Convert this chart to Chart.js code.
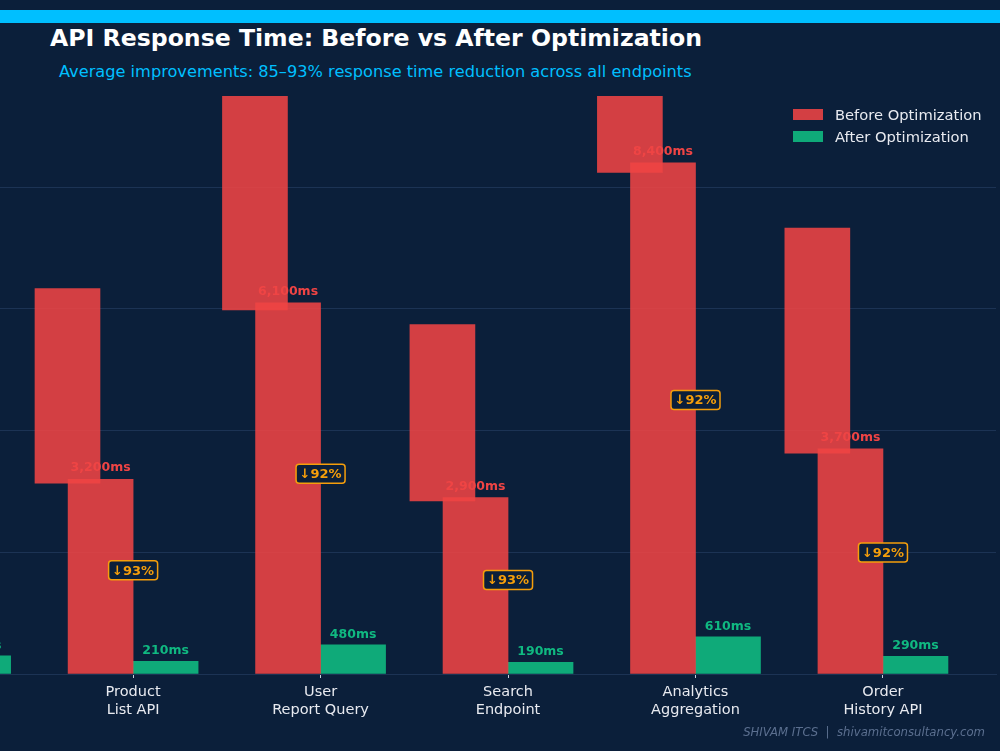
<!DOCTYPE html>
<html>
<head>
<meta charset="utf-8">
<title>API Response Time</title>
<script src="https://cdn.jsdelivr.net/npm/chart.js@4.4.1/dist/chart.umd.min.js"></script>
<style>
  body {
    margin: 0;
    width: 1000px;
    height: 751px;
    overflow: hidden;
    position: relative;
    background: #0b1f3a;
    font-family: "DejaVu Sans", sans-serif;
  }
  #topbar { position: absolute; left: 0; top: 10px; width: 1000px; height: 13px; background: #00bfff; }
  #title { position: absolute; left: 50px; top: 25px; font-size: 23.6px; font-weight: bold; color: #ffffff; line-height: 27px; white-space: nowrap; }
  #subtitle { position: absolute; left: 59px; top: 62px; font-size: 16.2px; color: #00bfff; white-space: nowrap; }
  #legend { position: absolute; left: 793px; top: 106px; font-size: 14.7px; color: #e8eaf0; z-index: 2; }
  #legend div { height: 22px; position: relative; padding-left: 42px; white-space: nowrap; }
  #legend span { position: absolute; left: 0; top: 3px; width: 30px; height: 11px; }
  #footer { position: absolute; right: 15px; top: 725px; font-size: 11.7px; font-style: italic; color: #5b6f8f; white-space: pre; z-index: 2; }
  canvas { position: absolute; left: 0; top: 0; }
</style>
</head>
<body>
<div id="topbar"></div>
<div id="title">API Response Time: Before vs After Optimization</div>
<div id="subtitle">Average improvements: 85–93% response time reduction across all endpoints</div>
<div id="legend"></div>
<div id="footer">SHIVAM ITCS  |  shivamitconsultancy.com</div>
<canvas id="chart" width="1000" height="751"></canvas>

<script>
// Endpoints (the first one sits mostly off the left edge of the plot)
const endpoints = ["Auth API", "Product List API", "User Report Query", "Search Endpoint", "Analytics Aggregation", "Order History API"];
const tickLabels = [["Auth", "API"], ["Product", "List API"], ["User", "Report Query"], ["Search", "Endpoint"], ["Analytics", "Aggregation"], ["Order", "History API"]];

// Response times in ms
const beforeMs = [2000, 3200, 6100, 2900, 8400, 3700];
const afterMs = [300, 210, 480, 190, 610, 290];
const reduction = ["85", "93", "92", "93", "92", "92"];

// the offset red "ghost" bars, low and high ends in ms
const ghostLow = [1960, 3135, 5985, 2845, 8245, 3630];
const ghostHigh = [3960, 6335, 12085, 5745, 16645, 7330];

const gridValues = [0, 2000, 4000, 6000, 8000];

const seriesNames = ["Before Optimization", "After Optimization"];

const RED = "rgba(239, 68, 68, 0.88)";
const GREEN = "rgba(16, 185, 129, 0.9)";
const RED_TEXT = "#ef4444";
const GREEN_TEXT = "#10b981";
const BADGE = "#f59e0b";
const GRID = "#1c3354";

// shift of the ghost bars, in category units
const GHOST_SHIFT = 0.35;

// legend
const legend = document.getElementById("legend");
[RED, GREEN].forEach((c, i) => {
    const row = document.createElement("div");
    row.innerHTML = '<span style="background:' + c + '"></span>' + seriesNames[i];
    legend.appendChild(row);
});

const fmt = v => v.toLocaleString("en-US") + "ms";

// value labels and reduction badges, drawn before the ghost bars go on top
const labelPlugin = {
    id: "barLabels",
    afterDatasetDraw(chart, args) {
        if (args.index !== 0) return;
        const ctx = chart.ctx;
        const yScale = chart.scales.y;
        const beforeMeta = chart.getDatasetMeta(0);
        const afterMeta = chart.getDatasetMeta(1);
        ctx.save();
        ctx.font = 'bold 12.5px "DejaVu Sans"';
        ctx.textAlign = "center";
        ctx.textBaseline = "bottom";
        beforeMeta.data.forEach((bar, i) => {
            ctx.fillStyle = RED_TEXT;
            ctx.fillText(fmt(beforeMs[i]), bar.x, bar.y - 5);
        });
        afterMeta.data.forEach((bar, i) => {
            ctx.fillStyle = GREEN_TEXT;
            ctx.fillText(fmt(afterMs[i]), bar.x, bar.y - 4);
        });

        // badges
        ctx.font = 'bold 13px "DejaVu Sans"';
        ctx.textBaseline = "middle";
        beforeMeta.data.forEach((bar, i) => {
            const cx = (bar.x + afterMeta.data[i].x) / 2;
            const cy = yScale.getPixelForValue((beforeMs[i] + afterMs[i]) / 2);
            const text = "↓" + reduction[i] + "%";
            const w = ctx.measureText(text).width + 7;
            const h = 19;
            ctx.beginPath();
            ctx.roundRect(cx - w / 2, cy - h / 2, w, h, 3);
            ctx.fillStyle = "#0b1f3a";
            ctx.fill();
            ctx.lineWidth = 1.5;
            ctx.strokeStyle = BADGE;
            ctx.stroke();
            ctx.fillStyle = BADGE;
            ctx.fillText(text, cx, cy + 1);
        });
        ctx.restore();
    }
};

Chart.defaults.font.family = '"DejaVu Sans", sans-serif';

new Chart(document.getElementById("chart"), {
    type: "bar",
    data: {
        datasets: [
            {
                label: seriesNames[0],
                data: beforeMs.map((v, i) => ({ x: i, y: v })),
                backgroundColor: RED,
                barThickness: 65,
                order: 1,
                clip: 0
            },
            {
                label: seriesNames[1],
                data: afterMs.map((v, i) => ({ x: i, y: v })),
                backgroundColor: GREEN,
                barThickness: 65,
                order: 2,
                clip: 0
            },
            {
                label: "ghost",
                data: ghostLow.map((v, i) => ({ x: i - GHOST_SHIFT, y: [v, ghostHigh[i]] })),
                backgroundColor: RED,
                grouped: false,
                categoryPercentage: 1,
                barPercentage: 1,
                maxBarThickness: 65,
                order: 0,
                clip: 0
            }
        ]
    },
    options: {
        responsive: false,
        animation: false,
        layout: { padding: { top: 96, right: 4, left: 0, bottom: 0 } },
        plugins: {
            legend: { display: false },
            tooltip: { enabled: false }
        },
        scales: {
            x: {
                type: "linear",
                min: 0.29,
                max: 5.603,
                offset: false,
                afterBuildTicks: axis => { axis.ticks = [1, 2, 3, 4, 5].map(v => ({ value: v })); },
                afterFit: axis => { axis.height = 77; },
                ticks: {
                    callback: v => tickLabels[v],
                    color: "#e8eaf0",
                    font: { size: 14.5 },
                    padding: 6,
                    maxRotation: 0,
                    autoSkip: false
                },
                grid: {
                    offset: false,
                    drawOnChartArea: false,
                    drawTicks: true,
                    tickLength: 4,
                    tickColor: "#c8d0dc"
                },
                border: { display: true, color: GRID }
            },
            y: {
                min: 0,
                max: 9500,
                afterFit: axis => { axis.width = 0; },
                afterBuildTicks: axis => { axis.ticks = gridValues.map(v => ({ value: v })); },
                ticks: { display: false },
                grid: { color: GRID, drawTicks: false },
                border: { display: false }
            }
        }
    },
    plugins: [labelPlugin]
});
</script>
</body>
</html>
